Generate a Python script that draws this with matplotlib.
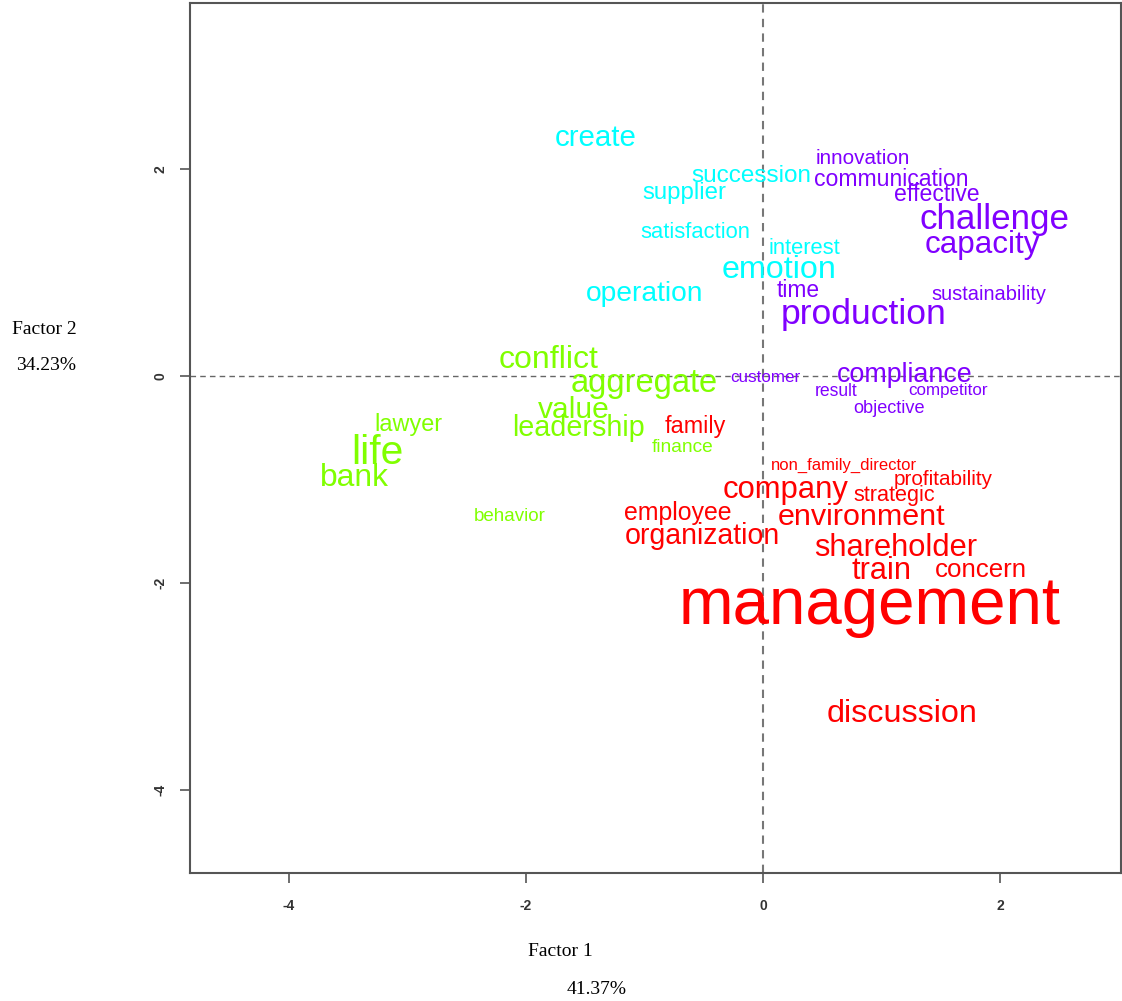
import matplotlib
matplotlib.use("Agg")
import matplotlib.pyplot as plt

# word coordinates on the first two factors, with word weights and cluster ids
words = [
    "create", "succession", "supplier", "satisfaction", "interest", "emotion", "operation",
    "innovation", "communication", "effective", "challenge", "capacity", "time",
    "sustainability", "production", "customer", "compliance", "result", "competitor", "objective",
    "conflict", "aggregate", "value", "leadership", "lawyer", "life", "bank", "finance", "behavior",
    "family", "non_family_director", "profitability", "company", "strategic", "employee",
    "environment", "organization", "shareholder", "train", "concern", "management", "discussion",
]
factor1 = [
    -1.41, -0.10, -0.66, -0.57, 0.35, 0.14, -1.00,
    0.84, 1.08, 1.47, 1.95, 1.85, 0.30,
    1.91, 0.85, 0.02, 1.20, 0.62, 1.56, 1.06,
    -1.81, -1.00, -1.60, -1.56, -2.99, -3.25, -3.45, -0.68, -2.14,
    -0.57, 0.68, 1.52, 0.19, 1.11, -0.72,
    0.83, -0.51, 1.12, 1.00, 1.84, 0.90, 1.17,
]
factor2 = [
    2.30, 1.93, 1.77, 1.39, 1.23, 1.02, 0.79,
    2.10, 1.90, 1.75, 1.51, 1.27, 0.83,
    0.79, 0.59, -0.01, 0.01, -0.15, -0.14, -0.31,
    0.15, -0.07, -0.33, -0.50, -0.47, -0.74, -0.99, -0.69, -1.36,
    -0.49, -0.86, -1.00, -1.10, -1.15, -1.32,
    -1.36, -1.55, -1.66, -1.88, -1.87, -2.23, -3.27,
]
weights = [
    29.5, 24.3, 24.0, 22.0, 22.0, 32.3, 28.3,
    20.6, 23.0, 23.0, 35.0, 31.4, 22.8,
    20.0, 35.5, 17.0, 26.9, 17.6, 17.0, 18.2,
    32.0, 32.6, 30.0, 28.8, 23.5, 40.7, 31.8, 19.2, 18.8,
    23.4, 16.6, 20.7, 31.0, 21.7, 24.9,
    30.5, 28.5, 30.9, 30.8, 25.9, 65.5, 32.4,
]
cluster = [2] * 7 + [3] * 13 + [1] * 9 + [0] * 13

cluster_colors = ["#FF0000", "#80FF00", "#00FFFF", "#8000FF"]

plt.rcParams["axes.unicode_minus"] = False

fig = plt.figure(figsize=(11.22, 10.01), dpi=100)
fig.patch.set_facecolor("white")
ax = fig.add_axes([0.1693, 0.1279, 0.8298, 0.8691])

ax.set_xlim(-4.835, 3.021)
ax.set_ylim(-4.802, 3.604)

# reference lines through the origin
ax.axhline(0, color="#666666", lw=1.0, ls=(0, (4, 3)), zorder=0)
ax.axvline(0, color="#777777", lw=1.5, ls=(0, (4, 3)), zorder=0)

for w, x, y, s, c in zip(words, factor1, factor2, weights, cluster):
    ax.text(x, y, w, fontsize=s * 0.72, color=cluster_colors[c],
            family="Liberation Sans", ha="center", va="center")

for sp in ax.spines.values():
    sp.set_color("#555555")
    sp.set_linewidth(1.5)

ax.set_xticks([-4, -2, 0, 2])
ax.set_yticks([-4, -2, 0, 2])
ax.tick_params(direction="out", length=7.5, width=1.2, color="#555555",
               labelcolor="#333333")
ax.tick_params(axis="x", pad=11)
ax.tick_params(axis="y", pad=9)
for lab in ax.get_xticklabels() + ax.get_yticklabels():
    lab.set_fontfamily("Liberation Sans")
    lab.set_fontweight("bold")
    lab.set_fontsize(10)
for lab in ax.get_yticklabels():
    lab.set_rotation(90)
    lab.set_va("center")

# axis captions with explained inertia
serif = dict(family="Liberation Serif", fontsize=14, color="black",
             ha="center", va="center")
fig.text(44 / 1122, 1 - 329 / 1001, "Factor 2", **serif)
fig.text(46 / 1122, 1 - 366 / 1001, "34.23%", **serif)
fig.text(560 / 1122, 1 - 952 / 1001, "Factor 1", **serif)
fig.text(597 / 1122, 1 - 990 / 1001, "41.37%", **serif)

fig.savefig("out.png", dpi=100)
